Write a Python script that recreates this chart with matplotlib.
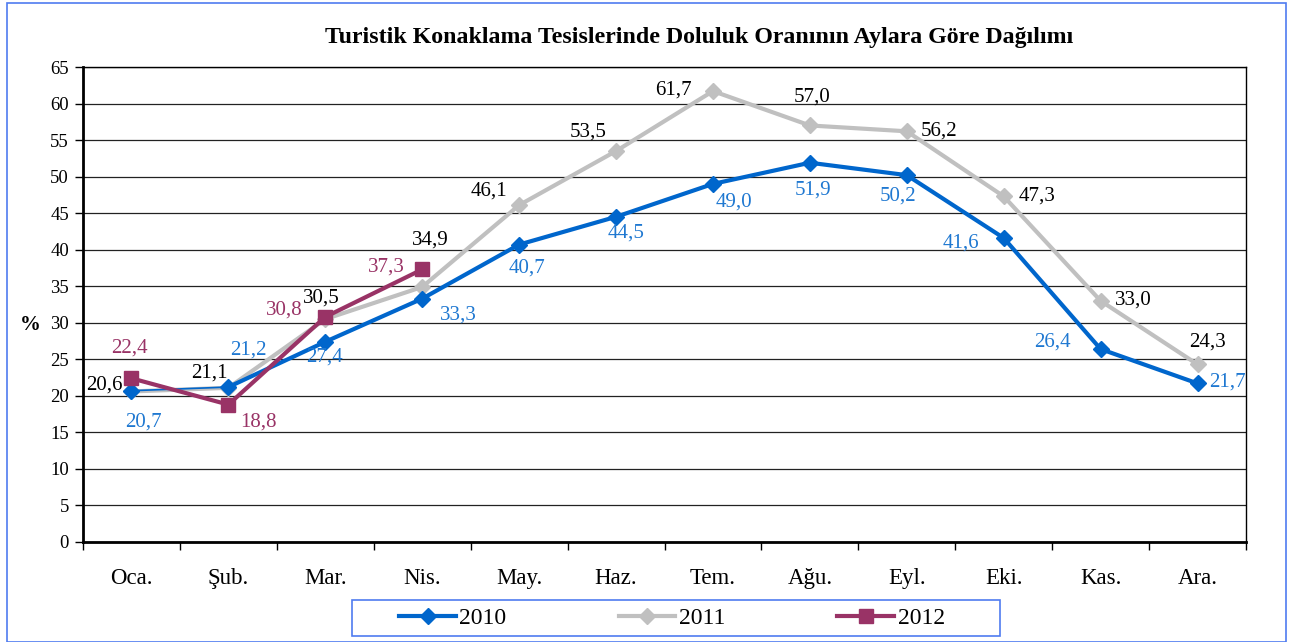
import numpy as np
import matplotlib.pyplot as plt
from matplotlib.patches import Rectangle
from matplotlib.lines import Line2D

months = ["Oca.", "Şub.", "Mar.", "Nis.", "May.", "Haz.", "Tem.", "Ağu.", "Eyl.", "Eki.", "Kas.", "Ara."]
y2010 = [20.7, 21.2, 27.4, 33.3, 40.7, 44.5, 49.0, 51.9, 50.2, 41.6, 26.4, 21.7]
y2011 = [20.6, 21.1, 30.5, 34.9, 46.1, 53.5, 61.7, 57.0, 56.2, 47.3, 33.0, 24.3]
y2012 = [22.4, 18.8, 30.8, 37.3]

# label offsets in pixels (dx, dy) relative to the point
off2010 = [(12, -31), (20, 37), (-1, -15), (36, -16), (8, -23), (10, -16),
           (21, -18), (3, -27), (-9, -21), (-43, -5), (-48, 7), (30, 1)]
off2011 = [(-27, 6), (-19, 15), (-4, 21), (8, 47), (-30, 14), (-28, 19),
           (-40, 1), (2, 28), (32, 0), (33, 0), (33, 1), (10, 22)]
off2012 = [(-2, 30), (30, -17), (-41, 7), (-36, 2)]

C10 = "#0066CC"
C11 = "#C0C0C0"
C12 = "#993366"
plt.rcParams["font.family"] = ["Liberation Serif", "DejaVu Serif"]

W, H = 1290, 642
fig = plt.figure(figsize=(W / 100, H / 100), dpi=100)
fig.patches.append(Rectangle((7 / W, 0), 1279 / W, 1 - 3 / H, transform=fig.transFigure,
                             fill=False, edgecolor="#4F7BF0", linewidth=1.2))
ax = fig.add_axes([83 / W, 100 / H, 1163 / W, 475 / H])

x = np.arange(len(months))
x12 = np.arange(len(y2012))

# 2010: first segment is thin in the source chart
ax.plot(x[:2], y2010[:2], color=C10, lw=1.2, zorder=3)
ax.plot(x[1:], y2010[1:], color=C10, lw=3, zorder=3)
ax.plot(x, y2010, color=C10, lw=0, marker="D", ms=8.5, zorder=4)
ax.plot(x, y2011, color=C11, lw=3, marker="D", ms=8.5, zorder=2)
ax.plot(x12, y2012, color=C12, lw=3, marker="s", ms=9.5, zorder=5)


def fmt(v):
    return f"{v:.1f}".replace(".", ",")


for xs, ys, offs, col in [(x, y2010, off2010, "#1F78D1"), (x, y2011, off2011, "black"),
                          (x12, y2012, off2012, C12)]:
    for xi, yi, (dx, dy) in zip(xs, ys, offs):
        ax.annotate(fmt(yi), (xi, yi), xytext=(dx, dy), textcoords="offset pixels",
                    ha="center", va="center", fontsize=15, color=col, zorder=6)

ax.set_xlim(-0.5, 11.5)
ax.set_ylim(0, 65)
ax.set_yticks(np.arange(0, 66, 5))
ax.set_xticks(x)
ax.set_xticklabels(months)
ax.set_xticks(np.arange(-0.5, 12, 1), minor=True)
ax.tick_params(axis="x", which="major", length=0, pad=19, labelsize=16.5)
ax.tick_params(axis="x", which="minor", length=6, width=1, direction="out")
ax.tick_params(axis="y", length=6, width=1, direction="out", labelsize=13.5, pad=4)
ax.grid(axis="y", color="#222222", lw=0.9)
ax.set_axisbelow(True)
for s in ["left", "bottom"]:
    ax.spines[s].set_linewidth(2)
ax.spines["right"].set_linewidth(1)
ax.spines["top"].set_linewidth(1)

fig.text(30 / W, 1 - 325 / H, "%", ha="center", va="center", fontsize=15, fontweight="bold")
fig.text(699 / W, 1 - 37 / H, "Turistik Konaklama Tesislerinde Doluluk Oranının Aylara Göre Dağılımı",
         ha="center", va="center", fontsize=17.2, fontweight="bold")

handles = [Line2D([], [], color=C10, lw=3, marker="D", ms=8.5),
           Line2D([], [], color=C11, lw=3, marker="D", ms=8.5),
           Line2D([], [], color=C12, lw=3, marker="s", ms=9.5)]
fig.legend(handles, ["2010", "2011", "2012"], loc="center", bbox_to_anchor=(672 / W, 1 - 618 / H),
           ncol=3, fontsize=17, frameon=False, handlelength=2.4, handletextpad=0.15,
           columnspacing=4.75)
fig.patches.append(Rectangle((352 / W, 1 - 636 / H), 648 / W, 36 / H, transform=fig.transFigure,
                             fill=False, edgecolor="#4F7BF0", linewidth=1.2))

fig.savefig("out.png", dpi=100)
